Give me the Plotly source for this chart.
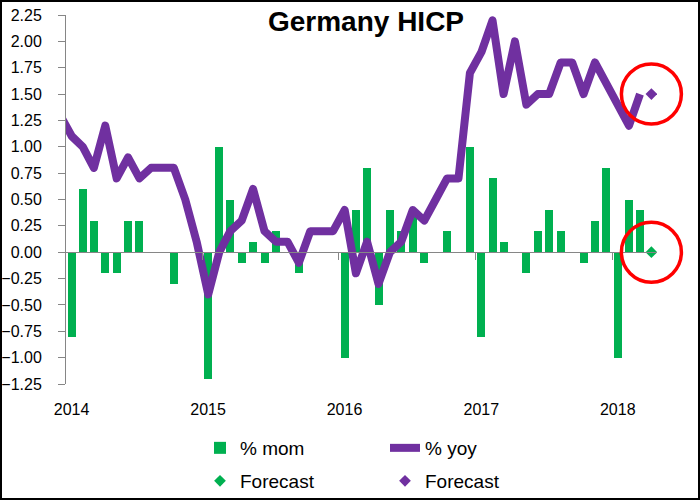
import pandas as pd
import plotly.graph_objects as go

# ---------------- data ----------------
year_labels = ["2014", "2015", "2016", "2017", "2018"]

# % mom, Jan 2014 .. Mar 2018
mom = [
    -0.8, 0.6, 0.3, -0.2, -0.2, 0.3, 0.3, 0.0, 0.0, -0.3, 0.0, 0.0,
    -1.2, 1.0, 0.5, -0.1, 0.1, -0.1, 0.2, 0.0, -0.2, 0.0, 0.0, 0.0,
    -1.0, 0.4, 0.8, -0.5, 0.4, 0.2, 0.4, -0.1, 0.0, 0.2, 0.0, 1.0,
    -0.8, 0.7, 0.1, 0.0, -0.2, 0.2, 0.4, 0.2, 0.0, -0.1, 0.3, 0.8,
    -1.0, 0.5, 0.4,
]
mom_start = "2014-01"

# % yoy, Dec 2013 .. Mar 2018
yoy = [
    1.3,
    1.1, 1.0, 0.8, 1.2, 0.7, 0.9, 0.7, 0.8, 0.8, 0.8, 0.5, 0.1,
    -0.4, 0.0, 0.2, 0.3, 0.6, 0.2, 0.1, 0.1, -0.1, 0.2, 0.2, 0.2,
    0.4, -0.2, 0.1, -0.3, 0.0, 0.1, 0.4, 0.3, 0.5, 0.7, 0.7, 1.7,
    1.9, 2.2, 1.5, 2.0, 1.4, 1.5, 1.5, 1.8, 1.8, 1.5, 1.8, 1.6,
    1.4, 1.2, 1.5,
]
yoy_start = "2013-12"

forecast_month = "2018-04"
forecast_mom = [0.0]
forecast_yoy = [1.5]

# ---------------- helpers ----------------
def month_centers(start, n):
    per = pd.period_range(start, periods=n, freq="M")
    return [p.start_time + (p.end_time - p.start_time) / 2 for p in per]

mom_x = month_centers(mom_start, len(mom))
yoy_x = month_centers(yoy_start, len(yoy))
fc_x = month_centers(forecast_month, 1)

GREEN = "#00B050"
PURPLE = "#7030A0"
GREY = "#868686"
FONT = "Liberation Sans"

W, H = 700, 500
ML, MR, MT, MB = 66, 43, 15, 116
PW, PH = W - ML - MR, H - MT - MB

Y_MIN, Y_MAX = -1.25, 2.25
X_RANGE = ["2014-01-01", "2018-05-01"]

bar_width_ms = 21.4 * 86400000

fig = go.Figure()

fig.add_trace(go.Bar(
    x=mom_x, y=mom, name="% mom", marker_color=GREEN,
    width=[bar_width_ms] * len(mom), marker_line_width=0,
    legend="legend",
))
fig.add_trace(go.Scatter(
    x=yoy_x, y=yoy, name="% yoy", mode="lines",
    line=dict(color=PURPLE, width=8), legend="legend",
))
fig.add_trace(go.Scatter(
    x=fc_x, y=forecast_mom, name="Forecast", mode="markers",
    marker=dict(symbol="diamond", size=9, color=GREEN),
    xaxis="x2", legend="legend2",
))
fig.add_trace(go.Scatter(
    x=fc_x, y=forecast_yoy, name="Forecast", mode="markers",
    marker=dict(symbol="diamond", size=9, color=PURPLE),
    xaxis="x2", legend="legend2",
))

# red circles around the forecast points (paper refs so they are not clipped)
x0_ts = pd.Timestamp(X_RANGE[0])
x1_ts = pd.Timestamp(X_RANGE[1])
fc_frac_x = (fc_x[0] - x0_ts) / (x1_ts - x0_ts)
for val in (forecast_yoy[0], forecast_mom[0]):
    fig.add_shape(
        type="circle", xref="paper", yref="paper",
        xsizemode="pixel", ysizemode="pixel",
        xanchor=fc_frac_x, yanchor=(val - Y_MIN) / (Y_MAX - Y_MIN),
        x0=-30, x1=30, y0=-30, y1=30,
        line=dict(color="#FF0000", width=3.5),
    )

# outer chart frame
fig.add_shape(
    type="rect", xref="paper", yref="paper",
    x0=(1 - ML) / PW, x1=(W - 1 - ML) / PW,
    y0=-(MB - 1) / PH, y1=1 + (MT - 1) / PH,
    line=dict(color="#000000", width=2),
)

year_tick_labels_at = [f"{y}-01-16" for y in year_labels]
year_bounds = [f"{y}-01-01" for y in year_labels[1:]]

fig.update_layout(
    width=W, height=H,
    margin=dict(l=ML, r=MR, t=MT, b=MB, autoexpand=False),
    paper_bgcolor="white", plot_bgcolor="white",
    font=dict(family=FONT, color="#000000"),
    showlegend=True,
    bargap=0,
    title=dict(
        text="<b>Germany HICP</b>",
        font=dict(family=FONT, size=28, color="#000000"),
        xref="container", x=366 / W, xanchor="center",
        yref="container", y=1 - 21 / H, yanchor="middle",
    ),
    xaxis=dict(
        type="date", range=X_RANGE, automargin=False,
        tickvals=year_tick_labels_at, ticktext=year_labels,
        ticks="", showline=False, showgrid=False, zeroline=False,
        tickfont=dict(family=FONT, size=16, color="#000000"),
        ticklabelstandoff=14,
    ),
    xaxis2=dict(
        type="date", overlaying="x", matches="x", anchor="free",
        position=(0 - Y_MIN) / (Y_MAX - Y_MIN), automargin=False,
        showline=True, linecolor=GREY, linewidth=1,
        ticks="outside", ticklen=7, tickcolor=GREY, tickwidth=1,
        tickvals=year_bounds, showticklabels=False,
        showgrid=False, zeroline=False,
    ),
    yaxis=dict(
        range=[Y_MIN, Y_MAX], dtick=0.25, tick0=0, tickformat=".2f",
        automargin=False,
        showline=True, linecolor=GREY, linewidth=1,
        ticks="outside", ticklen=7, tickcolor=GREY, tickwidth=1,
        showgrid=False, zeroline=False,
        tickfont=dict(family=FONT, size=16, color="#000000"),
        ticklabelstandoff=13,
    ),
    legend=dict(
        orientation="h", xref="container", x=200 / W, xanchor="left",
        yref="container", y=1 - 448 / H, yanchor="middle",
        entrywidth=140, font=dict(family=FONT, size=19, color="#000000"),
        bgcolor="rgba(0,0,0,0)",
    ),
    legend2=dict(
        orientation="h", xref="container", x=200 / W, xanchor="left",
        yref="container", y=1 - 481 / H, yanchor="middle",
        entrywidth=140, font=dict(family=FONT, size=19, color="#000000"),
        bgcolor="rgba(0,0,0,0)",
    ),
)

post = (
    "document.body.style.margin='0';document.body.style.padding='0';"
    "var s=document.createElement('style');"
    "s.textContent='.scatterlayer .js-line{stroke-linejoin:round;stroke-linecap:butt}';"
    "document.head.appendChild(s);"
)

fig.write_html(
    "out.html",
    config={"displayModeBar": False},
    post_script=post,
)
